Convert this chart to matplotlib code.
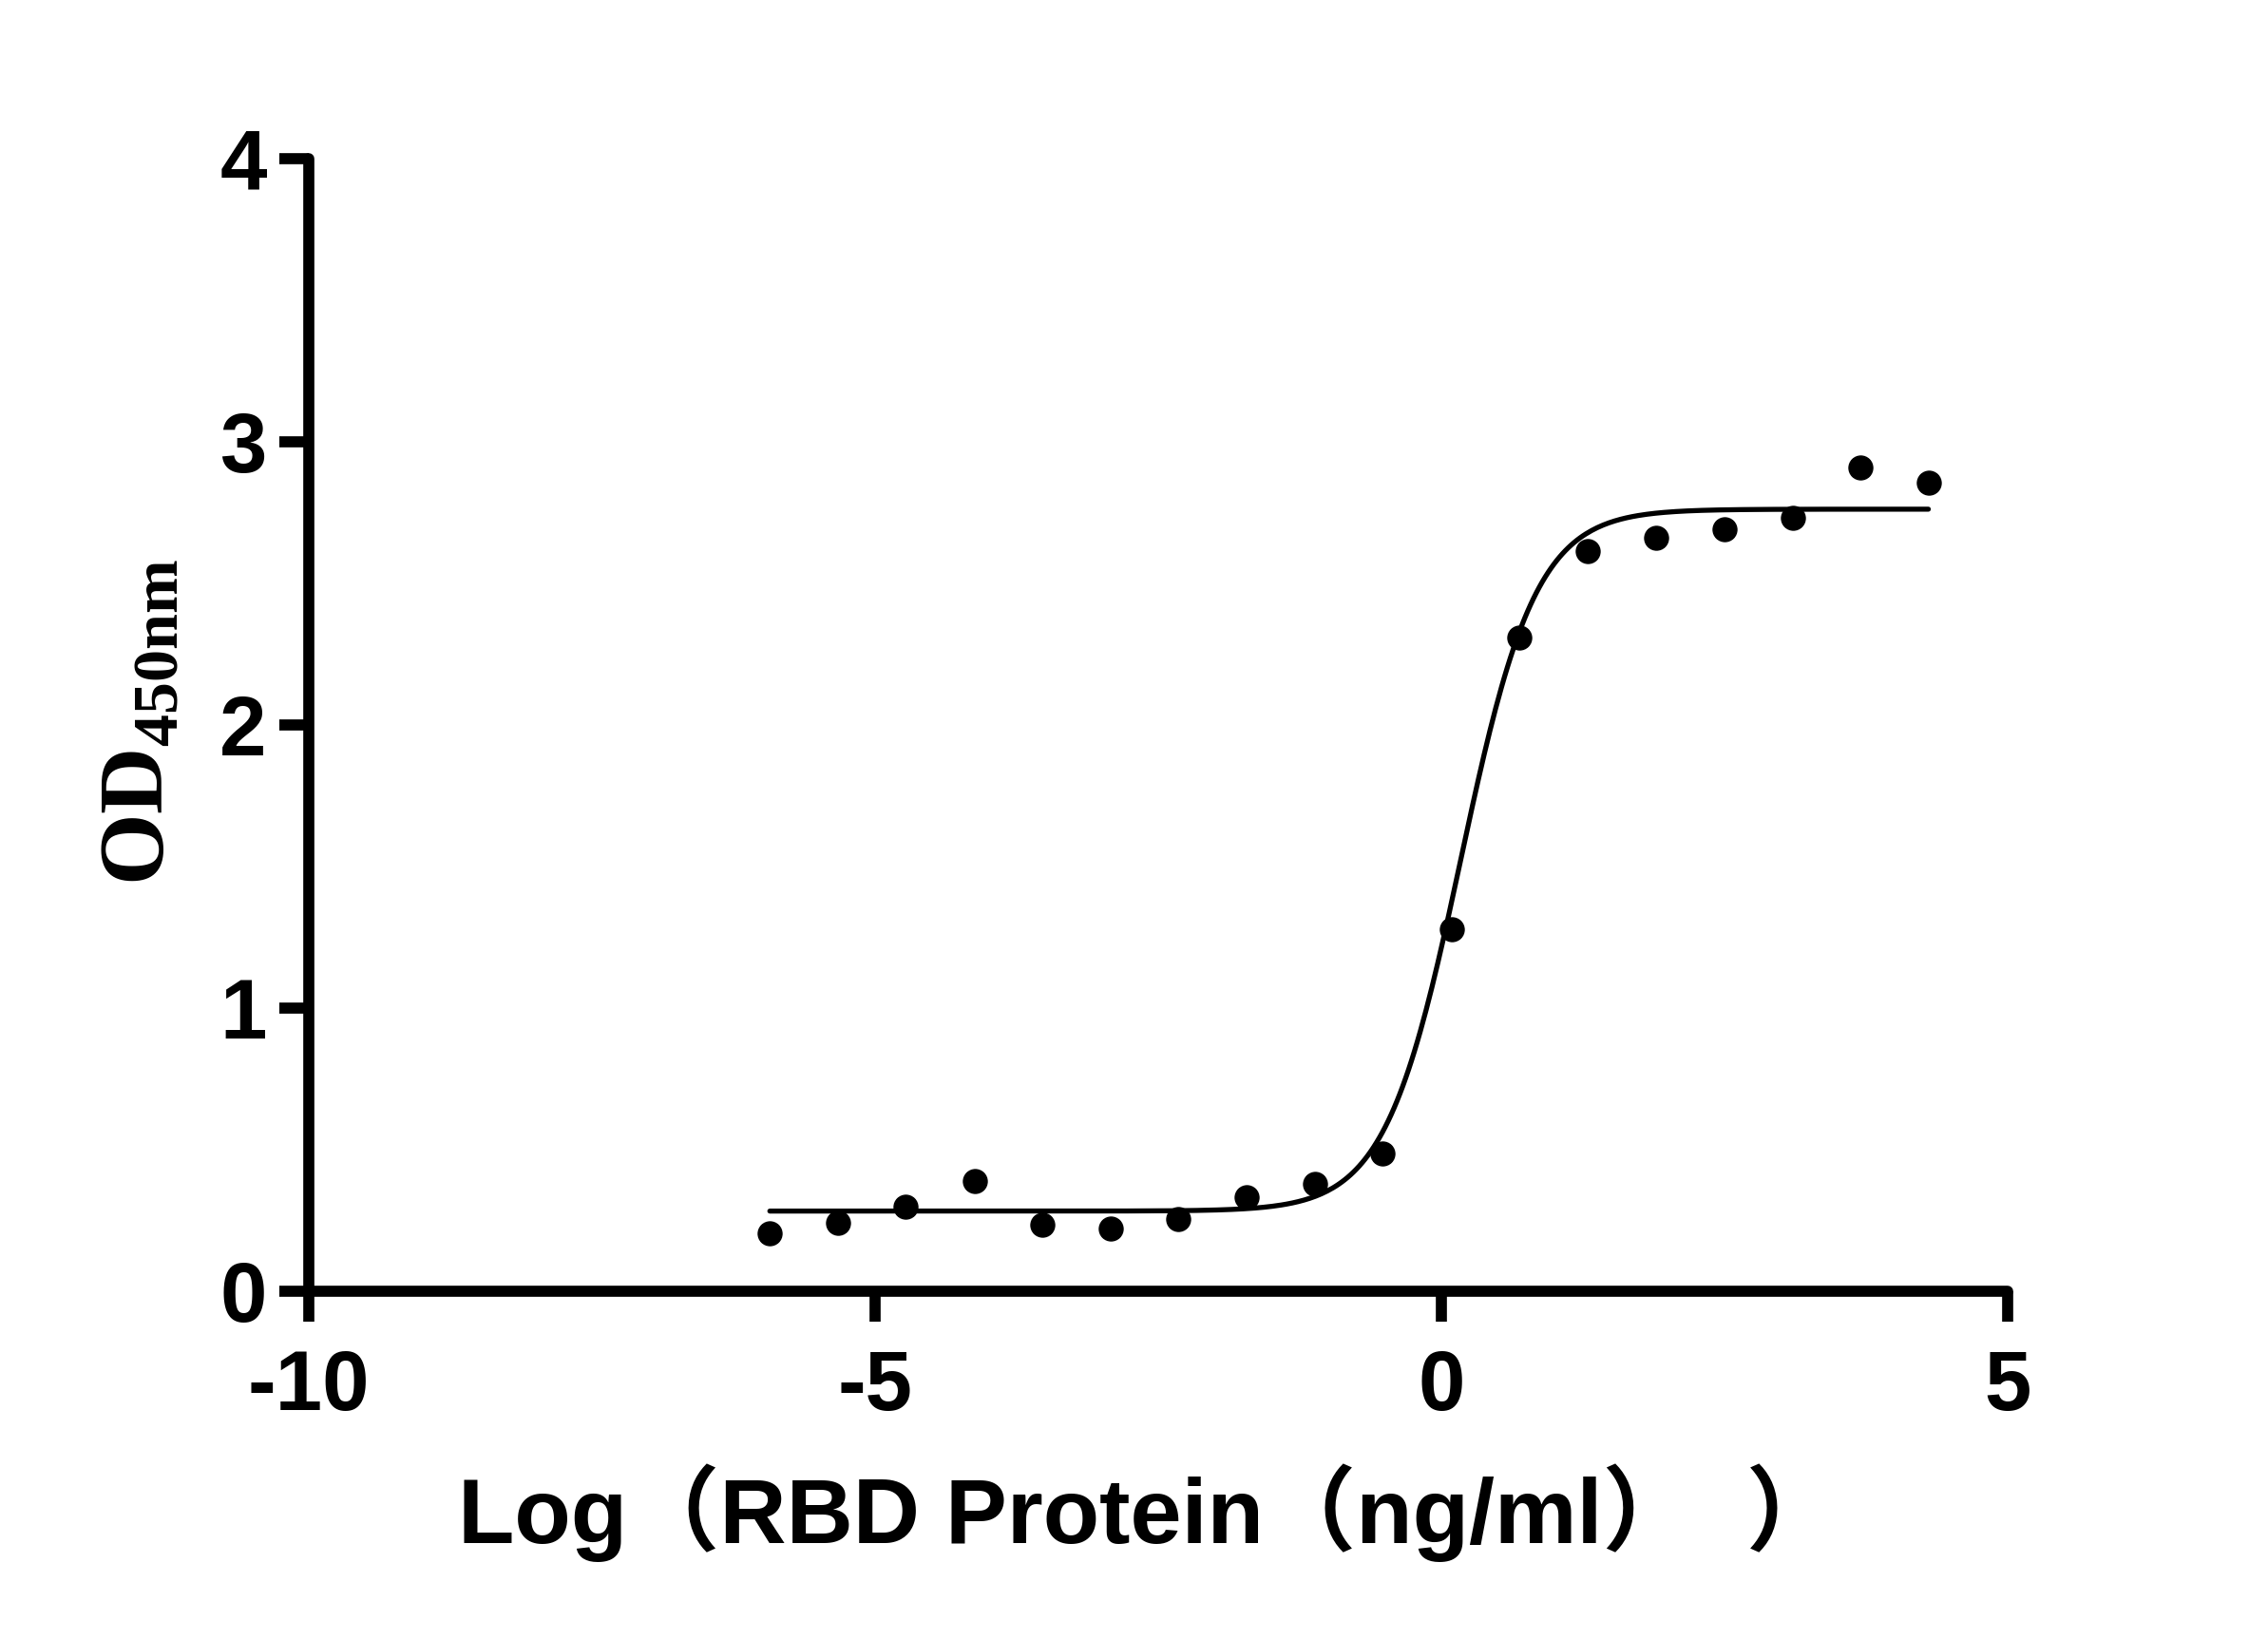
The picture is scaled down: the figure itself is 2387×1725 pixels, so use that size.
import numpy as np
import matplotlib
matplotlib.use("Agg")
import matplotlib.pyplot as plt

# Data: log10 concentration (ng/ml) and OD450
log_conc = [-5.93, -5.33, -4.73, -4.12, -3.52, -2.92, -2.32, -1.72, -1.12,
            -0.52, 0.09, 0.69, 1.29, 1.90, 2.50, 3.10, 3.70, 4.30]
od450 = [0.205, 0.24, 0.30, 0.39, 0.236, 0.22, 0.256, 0.333, 0.38,
         0.487, 1.28, 2.31, 2.615, 2.66, 2.69, 2.73, 2.91, 2.856]

# 4PL fit parameters
fit_bottom = 0.283
fit_top = 2.762
fit_logec50 = 0.17
fit_hill = 1.3

x_ticks = [-10, -5, 0, 5]
y_ticks = [0, 1, 2, 3, 4]

plt.rcParams['mathtext.fontset'] = 'custom'
plt.rcParams['mathtext.rm'] = 'Liberation Serif:bold'
plt.rcParams['mathtext.bf'] = 'Liberation Serif:bold'

fig = plt.figure(figsize=(23.87, 17.25), dpi=100)
ax = fig.add_axes([0.1362, 0.2122, 0.749, 0.691])

xs = np.linspace(min(log_conc), max(log_conc), 400)
ys = fit_bottom + (fit_top - fit_bottom) / (1 + 10 ** (fit_hill * (fit_logec50 - xs)))
ax.plot(xs, ys, color='black', lw=3.8, solid_capstyle='round')
ax.plot(log_conc, od450, 'o', color='black', ms=18, clip_on=False)

ax.set_xlim(-10, 5)
ax.set_ylim(0, 4)
ax.set_xticks(x_ticks)
ax.set_yticks(y_ticks)
ax.set_xticklabels([str(t) if t >= 0 else '-' + str(-t) for t in x_ticks])
for s in ['top', 'right']:
    ax.spines[s].set_visible(False)
for s in ['left', 'bottom']:
    ax.spines[s].set_linewidth(8.4)
    ax.spines[s].set_capstyle('round')
ax.tick_params(axis='x', direction='out', length=23, width=8.4, pad=20)
ax.tick_params(axis='y', direction='out', length=22, width=8.4, pad=10)
for lab in ax.get_xticklabels() + ax.get_yticklabels():
    lab.set_fontfamily('Liberation Sans')
    lab.set_fontweight('bold')
    lab.set_fontsize(64)

ax.set_xlabel('Log（RBD Protein（ng/ml）  ）',
              fontsize=70, fontweight='bold',
              family=['Liberation Sans', 'Noto Sans CJK SC'])
ax.xaxis.set_label_coords(0.494, -0.152)
ax.set_ylabel(r'$\mathbf{OD}_{\mathbf{450nm}}$', fontsize=70)
ax.yaxis.set_label_coords(-0.074, 0.503)

fig.savefig('out.png', dpi=100, facecolor='white')
